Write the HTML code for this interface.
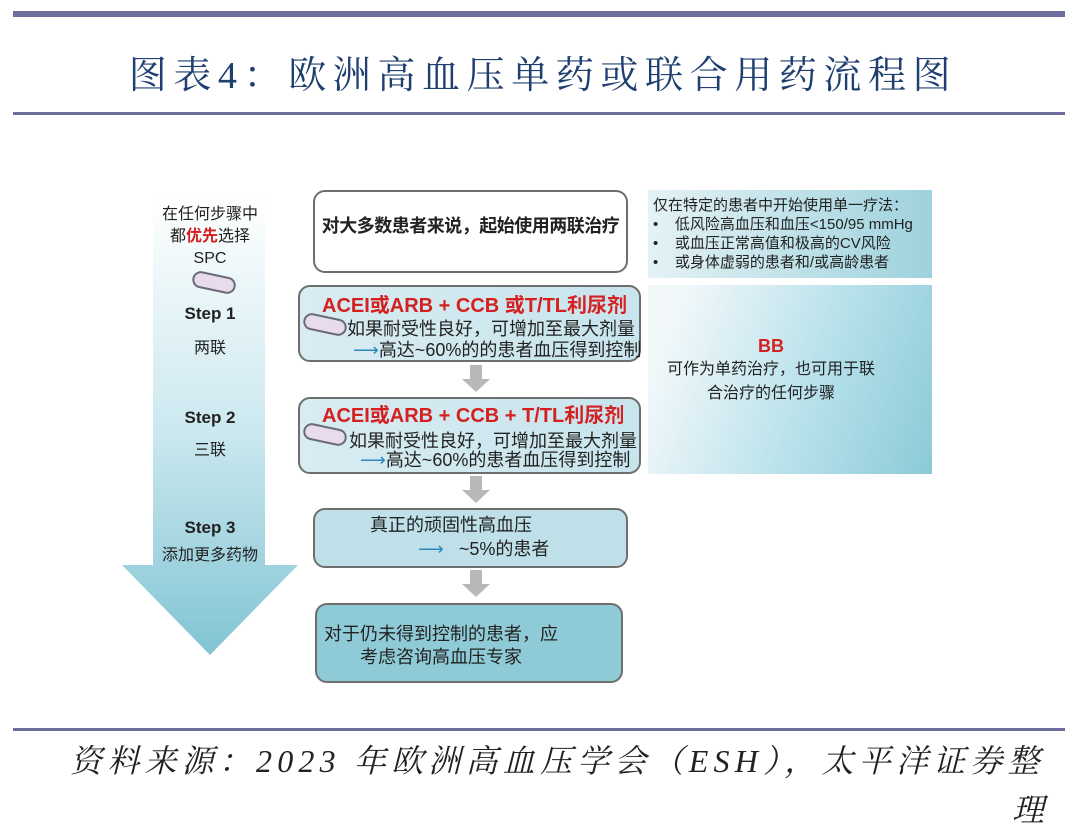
<!DOCTYPE html>
<html><head><meta charset="utf-8"><style>
*{margin:0;padding:0;box-sizing:border-box}
body{width:1080px;height:824px;background:#fff;position:relative;overflow:hidden;font-family:"Liberation Sans","Noto Sans CJK SC",sans-serif;color:#222}
.a{position:absolute}
.line{position:absolute;left:13px;width:1052px;background:#6f6f9f}
.box{position:absolute;border:2px solid #6e6e6e;border-radius:12px}
.c{text-align:center;white-space:nowrap}
.red{color:#d42020;font-weight:bold}
.pill{position:absolute;width:44px;height:17px;border:2px solid #6a6a7a;border-radius:9px;background:#e8dcec;transform:rotate(12deg)}
</style></head><body>
<div class="line" style="top:11px;height:6px"></div>
<div class="a c" style="left:0;width:1080px;top:44px;font-family:'Liberation Serif','Noto Serif CJK SC',serif;font-size:38px;color:#1f3f70;letter-spacing:6.6px;padding-left:6px">图表4：欧洲高血压单药或联合用药流程图</div>
<div class="line" style="top:112px;height:3px"></div>

<svg class="a" style="left:118px;top:190px" width="184" height="470">
<defs><linearGradient id="g" x1="0" y1="0" x2="0" y2="1"><stop offset="0" stop-color="#ffffff"/><stop offset="0.5" stop-color="#cde9f0"/><stop offset="1" stop-color="#82c4d3"/></linearGradient></defs>
<path d="M35 5 H147 V375 H180 L92 465 L4 375 H35 Z" fill="url(#g)"/>
</svg>
<div class="a c" style="left:135px;width:150px;top:204px;font-size:16px;line-height:22px">在任何步骤中<br>都<span class="red">优先</span>选择<br>SPC</div>
<div class="pill" style="left:192px;top:274px"></div>
<div class="a c" style="left:150px;width:120px;top:304px;font-size:17px;font-weight:bold">Step 1</div>
<div class="a c" style="left:150px;width:120px;top:334px;font-size:16px">两联</div>
<div class="a c" style="left:150px;width:120px;top:408px;font-size:17px;font-weight:bold">Step 2</div>
<div class="a c" style="left:150px;width:120px;top:436px;font-size:16px">三联</div>
<div class="a c" style="left:140px;width:140px;top:518px;font-size:17px;font-weight:bold">Step 3</div>
<div class="a c" style="left:140px;width:140px;top:541px;font-size:16px">添加更多药物</div>

<div class="box" style="left:313px;top:190px;width:315px;height:83px;background:#fff"></div>
<div class="a c" style="left:313px;width:315px;top:212px;font-size:18px;font-weight:bold;letter-spacing:-0.5px">对大多数患者来说，起始使用两联治疗</div>

<div class="box" style="left:298px;top:285px;width:343px;height:77px;background:linear-gradient(90deg,#d8ecf2,#c8e4ec)"></div>
<div class="a" style="left:322px;top:289px;font-size:20px;white-space:nowrap"><span class="red">ACEI或ARB + CCB 或T/TL利尿剂</span></div>
<div class="pill" style="left:303px;top:316px"></div>
<div class="a" style="left:347px;top:315px;font-size:18px;white-space:nowrap">如果耐受性良好，可增加至最大剂量</div>
<div class="a" style="left:353px;top:336px;font-size:18px;white-space:nowrap"><span style="color:#2a8ac0">⟶</span>高达~60%的的患者血压得到控制</div>

<div class="box" style="left:298px;top:397px;width:343px;height:77px;background:linear-gradient(90deg,#d8ecf2,#c8e4ec)"></div>
<div class="a" style="left:322px;top:399px;font-size:20px;white-space:nowrap"><span class="red">ACEI或ARB + CCB + T/TL利尿剂</span></div>
<div class="pill" style="left:303px;top:426px"></div>
<div class="a" style="left:349px;top:427px;font-size:18px;white-space:nowrap">如果耐受性良好，可增加至最大剂量</div>
<div class="a" style="left:360px;top:446px;font-size:18px;white-space:nowrap"><span style="color:#2a8ac0">⟶</span>高达~60%的患者血压得到控制</div>

<div class="box" style="left:313px;top:508px;width:315px;height:60px;background:#bfe0e9"></div>
<div class="a" style="left:370px;top:511px;font-size:18px">真正的顽固性高血压</div>
<div class="a" style="left:418px;top:535px;font-size:18px;white-space:nowrap"><span style="color:#2a8ac0">⟶</span>&nbsp;&nbsp; ~5%的患者</div>

<div class="box" style="left:315px;top:603px;width:308px;height:80px;background:#8fcbd7"></div>
<div class="a" style="left:324px;top:620px;font-size:18px;white-space:nowrap">对于仍未得到控制的患者，应</div>
<div class="a" style="left:360px;top:643px;font-size:18px;white-space:nowrap">考虑咨询高血压专家</div>

<svg class="a" style="left:460px;top:365px" width="32" height="240">
<g fill="#b8b8b8">
<path d="M10 0 H22 V14 H30 L16 27 L2 14 H10 Z"/>
<path transform="translate(0,111)" d="M10 0 H22 V14 H30 L16 27 L2 14 H10 Z"/>
<path transform="translate(0,205)" d="M10 0 H22 V14 H30 L16 27 L2 14 H10 Z"/>
</g></svg>

<div class="a" style="left:648px;top:190px;width:284px;height:88px;background:linear-gradient(90deg,#e4f2f5,#9ed2dd)"></div>
<div class="a" style="left:653px;top:196px;font-size:15px;line-height:19px;white-space:nowrap">仅在特定的患者中开始使用单一疗法：<br>•&nbsp;&nbsp;&nbsp;&nbsp;低风险高血压和血压&lt;150/95 mmHg<br>•&nbsp;&nbsp;&nbsp;&nbsp;或血压正常高值和极高的CV风险<br>•&nbsp;&nbsp;&nbsp;&nbsp;或身体虚弱的患者和/或高龄患者</div>
<div class="a" style="left:648px;top:285px;width:284px;height:189px;background:linear-gradient(110deg,#f2f8fa 10%,#b5e0ea 60%,#8ccad7)"></div>
<div class="a c" style="left:648px;width:246px;top:335px;font-size:18px;line-height:22px"><span class="red">BB</span><br><span style="font-size:16px">可作为单药治疗，也可用于联<br>合治疗的任何步骤</span></div>

<div class="line" style="top:728px;height:3px"></div>
<div class="a" style="left:70px;top:736px;font-family:'Liberation Serif','Noto Serif CJK SC',serif;font-style:italic;font-size:32px;letter-spacing:5.2px;white-space:nowrap">资料来源：2023 年欧洲高血压学会（ESH），太平洋证券整</div>
<div class="a" style="left:1012px;top:785px;font-family:'Liberation Serif','Noto Serif CJK SC',serif;font-style:italic;font-size:32px">理</div>
</body></html>
